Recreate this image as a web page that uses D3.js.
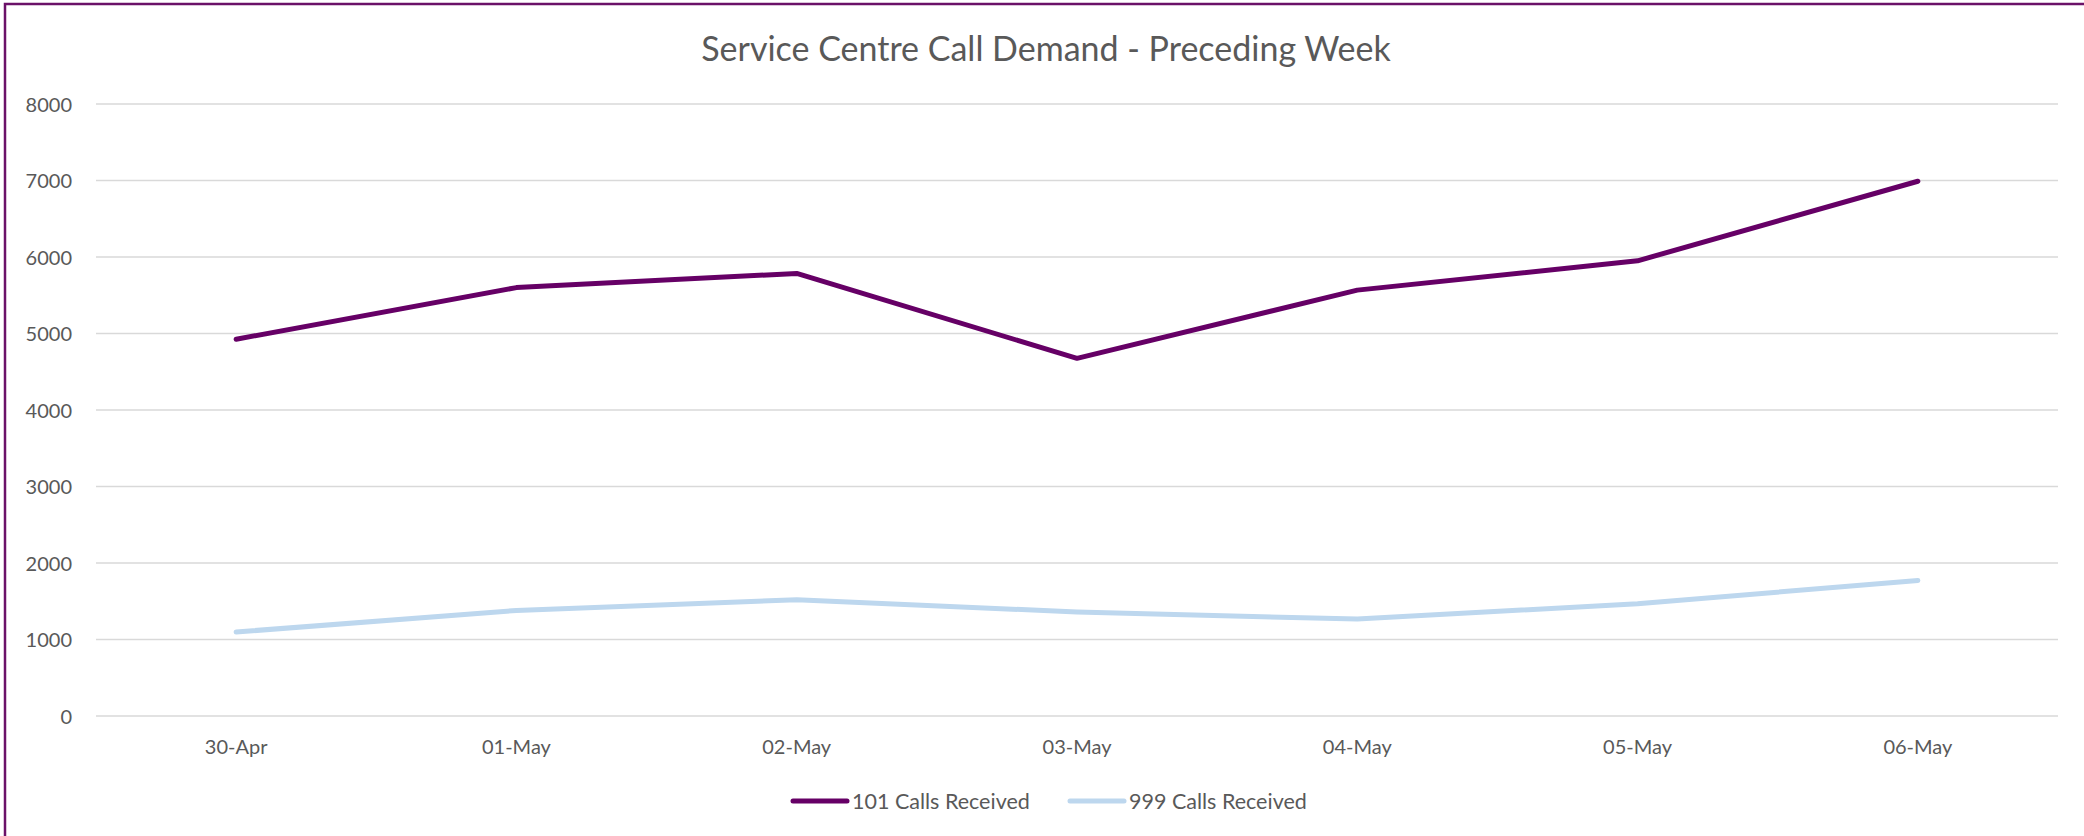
<!DOCTYPE html>
<html>
<head>
<meta charset="utf-8">
<script src="https://cdn.jsdelivr.net/npm/d3@7"></script>
<style>
  html, body { margin: 0; padding: 0; background: #fff; }
  svg { display: block; }
  text { font-family: Lato, "Open Sans", "Liberation Sans", sans-serif; fill: #595959; }
</style>
</head>
<body>
<script>
const titleText = "Service Centre Call Demand - Preceding Week";
const categories = ["30-Apr", "01-May", "02-May", "03-May", "04-May", "05-May", "06-May"];
const calls101 = [4925, 5600, 5785, 4675, 5567, 5950, 6990];
const calls999 = [1098, 1380, 1520, 1359, 1267, 1467, 1772];
const seriesNames = ["101 Calls Received", "999 Calls Received"];
const seriesColors = ["#660066", "#BDD7EE"];
const yTicks = [0, 1000, 2000, 3000, 4000, 5000, 6000, 7000, 8000];

const W = 2084, H = 836;
const margin = { left: 96, right: 26, top: 104, bottom: 120 };

const svg = d3.select("body").append("svg").attr("width", W).attr("height", H);

// outer chart border (top/left visible)
svg.append("rect")
  .attr("x", 5).attr("y", 4)
  .attr("width", W + 20).attr("height", H + 20)
  .attr("fill", "none").attr("stroke", "#6B1168").attr("stroke-width", 2.5);

const x = d3.scaleBand().domain(categories).range([margin.left, W - margin.right]).padding(0);
const y = d3.scaleLinear().domain([0, 8000]).range([H - margin.bottom, margin.top]);

// gridlines
svg.append("g").selectAll("line").data(yTicks).join("line")
  .attr("x1", margin.left).attr("x2", W - margin.right)
  .attr("y1", d => y(d)).attr("y2", d => y(d))
  .attr("stroke", "#D9D9D9").attr("stroke-width", 1.5);

// y axis
const yAxis = svg.append("g")
  .attr("transform", `translate(${margin.left - 24},0)`)
  .call(d3.axisLeft(y).tickValues(yTicks).tickSize(0).tickPadding(0).tickFormat(d3.format("d")));
yAxis.select(".domain").remove();
yAxis.selectAll("text").style("font-size", "20px").attr("fill", "#595959").attr("dy", "0.35em");

// x axis
const xAxis = svg.append("g")
  .attr("transform", `translate(0,${H - margin.bottom})`)
  .call(d3.axisBottom(x).tickSize(0).tickPadding(24));
xAxis.select(".domain").remove();
xAxis.selectAll("text").style("font-size", "20px").attr("fill", "#595959");

// lines
const line = d3.line().x((d, i) => x(categories[i]) + x.bandwidth() / 2).y(d => y(d));
[calls999, calls101].forEach((vals, k) => {
  const idx = k === 0 ? 1 : 0;
  svg.append("path").datum(vals)
    .attr("d", line)
    .attr("fill", "none")
    .attr("stroke", seriesColors[idx])
    .attr("stroke-width", 5)
    .attr("stroke-linejoin", "round")
    .attr("stroke-linecap", "round");
});

// title
svg.append("text")
  .attr("x", W / 2 + 4).attr("y", 61)
  .attr("text-anchor", "middle")
  .style("font-size", "34px").style("font-weight", 400)
  .text(titleText);

// legend
const legendX = [793, 1070];
const legendY = 801;
const lg = svg.append("g");
seriesNames.forEach((name, i) => {
  lg.append("line")
    .attr("x1", legendX[i]).attr("x2", legendX[i] + 54)
    .attr("y1", legendY).attr("y2", legendY)
    .attr("stroke", seriesColors[i]).attr("stroke-width", 5).attr("stroke-linecap", "round");
  lg.append("text")
    .attr("x", legendX[i] + 59).attr("y", legendY).attr("dy", "0.35em")
    .style("font-size", "21.5px")
    .text(name);
});
</script>
</body>
</html>
